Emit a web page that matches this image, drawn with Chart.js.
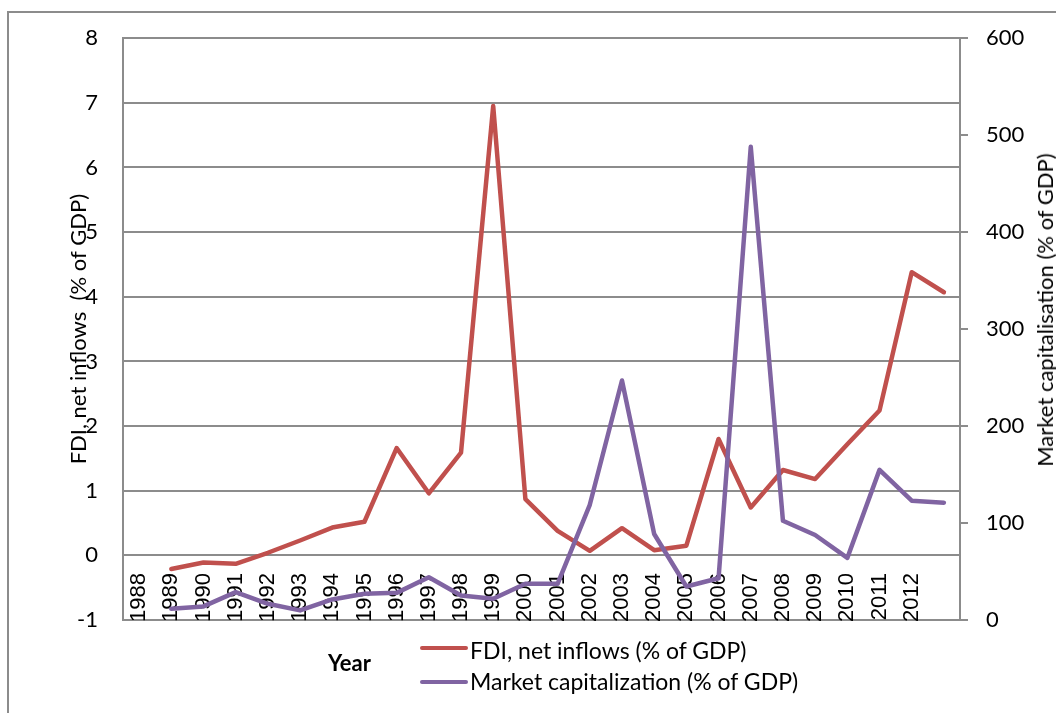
<!DOCTYPE html>
<html><head><meta charset="utf-8">
<script src="https://cdn.jsdelivr.net/npm/chart.js@4/dist/chart.umd.min.js"></script>
<style>
html,body{margin:0;padding:0;background:#fff;overflow:hidden;width:1056px;height:713px;}
#wrap{position:relative;width:1056px;height:713px;overflow:hidden;}
#frame{position:absolute;left:7px;top:11px;width:1200px;height:900px;border-left:2px solid #8c8c8c;border-top:2px solid #8c8c8c;}
canvas{position:absolute;left:0;top:0;}
.t{position:absolute;font-family:Lato,sans-serif;color:#000;white-space:nowrap;line-height:1;}
.sw{position:absolute;height:4px;border-radius:2px;width:48px;}
</style></head>
<body><div id="wrap">
<div id="frame"></div>
<canvas id="c" width="1056" height="713"></canvas>
<div class="t" id="rtitle" style="font-size:22px;left:1045px;top:310px;transform:translate(-50%,-50%) rotate(-90deg);">Market capitalisation (% of GDP)</div>
<div class="t" style="font-size:22px;font-weight:bold;left:328px;top:652px;">Year</div>
<div class="sw" style="left:420px;top:646px;background:#C0504D;"></div>
<div class="t" style="font-size:23px;left:470px;top:639px;">FDI, net inflows (% of GDP)</div>
<div class="sw" style="left:420px;top:680px;background:#8064A2;"></div>
<div class="t" style="font-size:23px;left:470px;top:670px;">Market capitalization (% of GDP)</div>
</div>
<script>
const years = ['1988','1989','1990','1991','1992','1993','1994','1995','1996','1997','1998','1999','2000','2001','2002','2003','2004','2005','2006','2007','2008','2009','2010','2011','2012',''];
const fdi = [null,-0.21,-0.11,-0.13,0.04,0.23,0.43,0.52,1.66,0.96,1.59,6.95,0.87,0.38,0.07,0.42,0.08,0.15,1.80,0.74,1.32,1.18,1.72,2.24,4.38,4.07];
const mcap = [null,11.6,14,28.7,16.7,9.9,21.2,27,28,44,25.3,21.9,37.3,37.3,118.8,247,88.7,34.5,43,488,102.4,87.7,64,154.8,123,121];
const leftRange = [-1, 8];
const rightRange = [0, 600];

const grey = '#8c8c8c';
new Chart(document.getElementById('c'), {
  type: 'line',
  data: {
    labels: years,
    datasets: [
      {label: 'FDI, net inflows (% of GDP)', data: fdi, yAxisID: 'y', borderColor: '#C0504D', backgroundColor: '#C0504D',
       borderWidth: 4.5, pointRadius: 0, tension: 0, order: 1, borderJoinStyle: 'round', borderCapStyle: 'round'},
      {label: 'Market capitalization (% of GDP)', data: mcap, yAxisID: 'y1', borderColor: '#8064A2', backgroundColor: '#8064A2',
       borderWidth: 4.5, pointRadius: 0, tension: 0, order: 0, borderJoinStyle: 'round', borderCapStyle: 'round'}
    ]
  },
  options: {
    responsive: false, animation: false, devicePixelRatio: 1,
    layout: {padding: {left: 0, right: 0, top: 36, bottom: 93}},
    plugins: {legend: {display: false}, tooltip: {enabled: false}},
    scales: {
      x: {
        type: 'category', offset: true, position: {y: leftRange[0]},
        grid: {drawOnChartArea: false, drawTicks: false},
        border: {display: true, color: grey, width: 2},
        ticks: {autoSkip: false, minRotation: 90, maxRotation: 90, padding: -47,
                font: {family: '"Liberation Sans"', size: 22}, color: '#000'}
      },
      y: {
        position: 'left', min: leftRange[0], max: leftRange[1],
        ticks: {stepSize: 1, padding: 25, font: {family: 'Lato', size: 22}, color: '#000'},
        grid: {color: grey, lineWidth: 2, drawTicks: false},
        border: {display: true, color: grey, width: 2},
        title: {display: true, text: 'FDI, net inflows  (% of GDP)', font: {family: 'Lato', size: 22}, color: '#000', padding: {top: 66, bottom: 0}},
        afterFit: s => { s.width = 123; }
      },
      y1: {
        position: 'right', min: rightRange[0], max: rightRange[1],
        ticks: {stepSize: 100, padding: 18, font: {family: 'Lato', size: 22}, color: '#000'},
        grid: {drawOnChartArea: false, drawTicks: true, tickLength: 8, tickColor: grey, lineWidth: 2, color: grey},
        border: {display: true, color: grey, width: 2},
        afterFit: s => { s.width = 96; }
      }
    }
  }
});
</script>
</body></html>
